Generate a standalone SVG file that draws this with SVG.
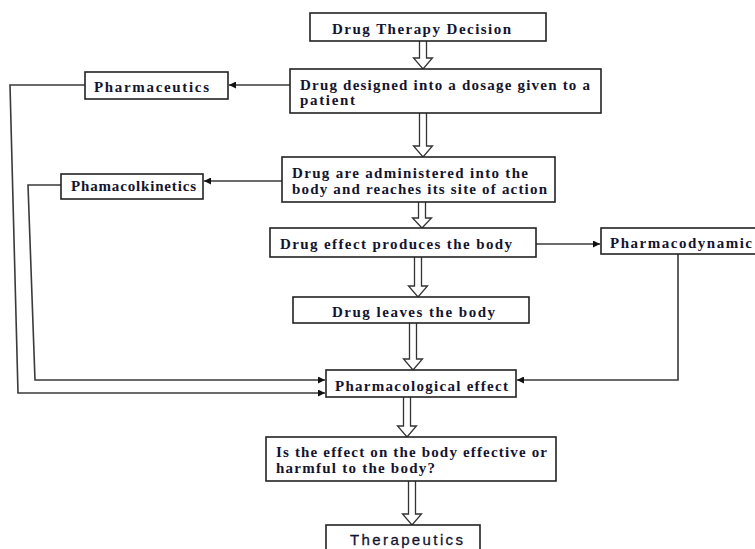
<svg xmlns="http://www.w3.org/2000/svg" width="755" height="549" viewBox="0 0 755 549">
<defs>
<style>
.box{fill:#fff;stroke:#222;stroke-width:1.6}
.t{font-family:"Liberation Serif","Times New Roman",serif;font-weight:bold;font-size:15px;fill:#14142e}
.ts{font-family:"Liberation Sans",Arial,sans-serif;font-size:15px;fill:#14142e;stroke:#14142e;stroke-width:0.3}
.ln{fill:none;stroke:#3a3a3a;stroke-width:1.6}
.ha{fill:#fff;stroke:#333;stroke-width:1.3}
</style>
<marker id="ah" viewBox="0 0 10 10" refX="10" refY="5" markerWidth="7" markerHeight="7" markerUnits="userSpaceOnUse" orient="auto">
<path d="M0,0 L10,5 L0,10 z" fill="#111"/>
</marker>
</defs>
<rect width="755" height="549" fill="#fff"/>
<g id="connectors">
<path class="ln" d="M290,85 H229" marker-end="url(#ah)"/>
<path class="ln" d="M85,85 H10 L18,393 H325" marker-end="url(#ah)"/>
<path class="ln" d="M282,181 H204" marker-end="url(#ah)"/>
<path class="ln" d="M61,185 H28 L35,380 H325" marker-end="url(#ah)"/>
<path class="ln" d="M536,244 H600" marker-end="url(#ah)"/>
<path class="ln" d="M678,254 V380 H517" marker-end="url(#ah)"/>
<path class="ha" d="M419.5,41 V58 H413.5 L423,69 L432.5,58 H426.5 V41"/>
<path class="ha" d="M419.5,113 V146 H413.5 L423,157 L432.5,146 H426.5 V113"/>
<path class="ha" d="M418.5,202 V218 H412.5 L422,228 L431.5,218 H425.5 V202"/>
<path class="ha" d="M414.5,257 V286 H408.5 L418,297 L427.5,286 H421.5 V257"/>
<path class="ha" d="M409.5,323 V359 H403.5 L413,370 L422.5,359 H416.5 V323"/>
<path class="ha" d="M403.5,397 V426 H397.5 L407,437 L416.5,426 H410.5 V397"/>
<path class="ha" d="M408.5,481 V514 H402.5 L412,525 L421.5,514 H415.5 V481"/>
</g>
<g id="n1"><rect class="box" x="310" y="13" width="236" height="28"/><text class="t" x="332" y="34" textLength="179" lengthAdjust="spacing">Drug Therapy Decision</text></g>
<g id="n2"><rect class="box" x="290" y="69" width="311" height="44"/><text class="t" x="300" y="90" textLength="290" lengthAdjust="spacing">Drug designed into a dosage given to a</text><text class="t" x="300" y="105" textLength="55" lengthAdjust="spacing">patient</text></g>
<g id="n3"><rect class="box" x="85" y="72" width="143" height="27"/><text class="t" x="94" y="92" textLength="115" lengthAdjust="spacing">Pharmaceutics</text></g>
<g id="n4"><rect class="box" x="282" y="157" width="273" height="45"/><text class="t" x="292" y="178" textLength="236" lengthAdjust="spacing">Drug are administered into the</text><text class="t" x="292" y="194" textLength="255" lengthAdjust="spacing">body and reaches its site of action</text></g>
<g id="n5"><rect class="box" x="61" y="174" width="142" height="25"/><text class="t" x="71" y="191" textLength="125" lengthAdjust="spacing">Phamacolkinetics</text></g>
<g id="n6"><rect class="box" x="270" y="228" width="266" height="29"/><text class="t" x="280" y="249" textLength="232" lengthAdjust="spacing">Drug effect produces the body</text></g>
<g id="n7"><rect class="box" x="601" y="228" width="170" height="26"/><text class="t" x="610" y="248" textLength="142" lengthAdjust="spacing">Pharmacodynamic</text></g>
<g id="n8"><rect class="box" x="293" y="297" width="236" height="26"/><text class="t" x="332" y="317" textLength="163" lengthAdjust="spacing">Drug leaves the body</text></g>
<g id="n9"><rect class="box" x="326" y="370" width="190" height="27"/><text class="t" x="335" y="391" textLength="173" lengthAdjust="spacing">Pharmacological effect</text></g>
<g id="n10"><rect class="box" x="266" y="437" width="290" height="44"/><text class="t" x="276" y="457" textLength="271" lengthAdjust="spacing">Is the effect on the body effective or</text><text class="t" x="276" y="473" textLength="159" lengthAdjust="spacing">harmful to the body?</text></g>
<g id="n11"><rect class="box" x="326" y="525" width="154" height="40"/><text class="ts" x="350" y="545" textLength="113" lengthAdjust="spacing">Therapeutics</text></g>
</svg>
